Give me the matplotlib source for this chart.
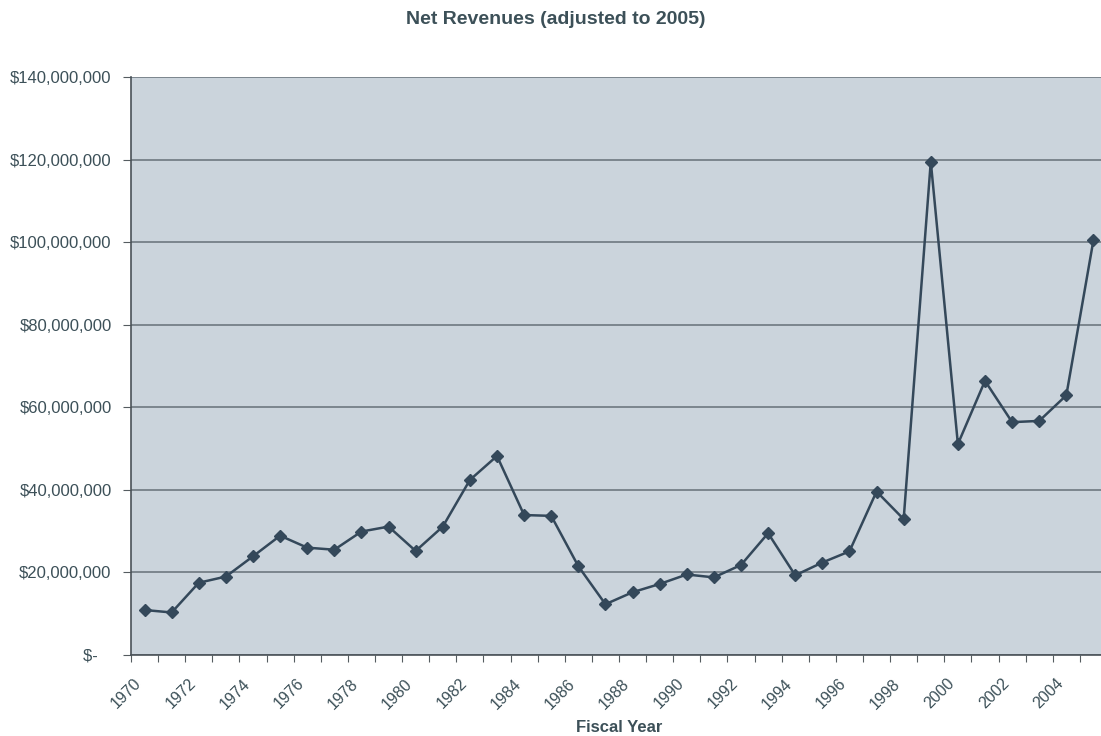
import numpy as np
import matplotlib.pyplot as plt
from matplotlib.ticker import FuncFormatter

plt.rcParams['font.family'] = ['Liberation Sans', 'DejaVu Sans']

years = list(range(1970, 2006))
revenues = [10.9, 10.3, 17.5, 19.0, 23.9, 28.9, 26.0, 25.5, 29.9, 31.1,
            25.2, 31.1, 42.4, 48.2, 33.9, 33.7, 21.5, 12.3, 15.2, 17.2,
            19.5, 18.8, 21.8, 29.5, 19.3, 22.4, 25.1, 39.6, 32.9, 119.5,
            51.1, 66.4, 56.4, 56.7, 62.9, 100.5]
revenues = [v * 1e6 for v in revenues]
label_years = years[::2]

text_col = '#3c5058'
line_col = '#34485a'

fig = plt.figure(figsize=(11.01, 7.36), dpi=100)
# axes runs slightly past the right edge, like the scanned original
ax = fig.add_axes([131 / 1101, 1 - 655 / 736, (1107 - 131) / 1101, (655 - 77) / 736])
ax.set_facecolor('#cbd4dc')

x = np.arange(len(years)) + 0.5
ax.plot(x, revenues, color=line_col, lw=1.8, marker='D', ms=6, mfc=line_col, mec=line_col)

ax.set_xlim(0, len(years))
ax.set_ylim(0, 140e6)
ax.set_yticks(np.arange(0, 140e6 + 1, 20e6))
# accounting style: zero shown as "$-" with padding
ax.yaxis.set_major_formatter(FuncFormatter(lambda v, p: '$-   ' if v == 0 else '${:,.0f}'.format(v)))
ax.grid(axis='y', color='#6e7880', lw=1.2)
ax.set_axisbelow(True)

ax.set_xticks(np.arange(len(years) + 1))
ax.set_xticklabels([])
ax.set_xticks([years.index(y) + 0.1 for y in label_years], minor=True)
ax.set_xticklabels([str(y) for y in label_years], minor=True, rotation=45,
                   ha='right', va='top', rotation_mode='anchor', color=text_col, fontsize=11.5)
ax.tick_params(axis='x', which='minor', length=0, pad=15)
ax.tick_params(axis='x', which='major', length=5, color='#555c60')
ax.tick_params(axis='y', length=6, color='#555c60', labelcolor=text_col, labelsize=12, pad=8)

for s in ['top', 'right']:
    ax.spines[s].set_visible(False)
for s in ['left', 'bottom']:
    ax.spines[s].set_color('#4a5258')
    ax.spines[s].set_linewidth(1.2)

fig.text(556 / 1101, 1 - 19 / 736, 'Net Revenues (adjusted to 2005)', ha='center', va='center',
         fontsize=14, fontweight='bold', color=text_col)
fig.text(619 / 1101, 1 - 728 / 736, 'Fiscal Year', ha='center', va='center',
         fontsize=12, fontweight='bold', color=text_col)

fig.savefig('out.png', dpi=100)
